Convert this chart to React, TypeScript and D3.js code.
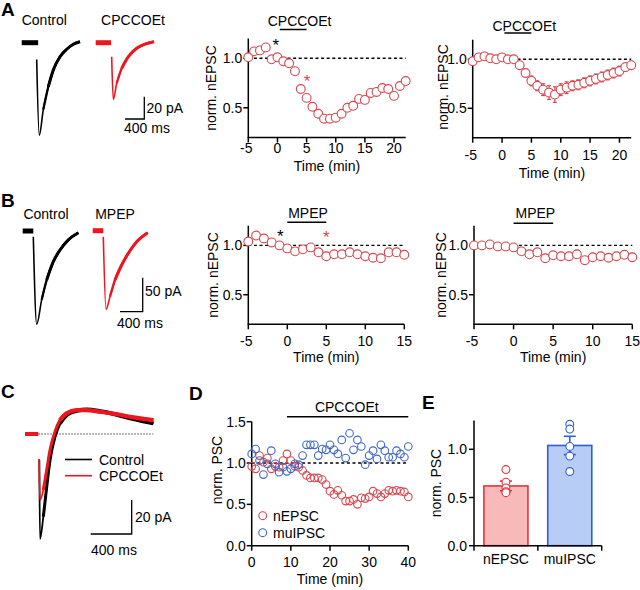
import React from 'react';
import * as d3 from 'd3';

const FONT = "'Liberation Sans', Arial, Helvetica, sans-serif";
const FS = 14;
const RED_PT = '#d6474f';
const BLUE_PT = '#3f67c7';
const TRACE_RED = '#f0141e';

// ---------------- Data ----------------
const timeA = [-5, -4, -3, -2, -1, 0, 1, 2, 3, 4, 5, 6, 7, 8, 9, 10, 11, 12, 13, 14, 15, 16, 17, 18, 19, 20, 21, 22];
const aExampleVals = [1.01, 1.07, 1.08, 1.11, 0.99, 1.01, 0.97, 0.95, 0.87, 0.69, 0.6, 0.51, 0.44, 0.39, 0.39, 0.4, 0.44, 0.5, 0.52, 0.59, 0.58, 0.65, 0.66, 0.7, 0.69, 0.62, 0.72, 0.77];
const aMeanVals = [0.98, 1.02, 1.03, 1.01, 1.0, 1.02, 1.0, 1.0, 0.94, 0.86, 0.78, 0.73, 0.69, 0.66, 0.64, 0.69, 0.71, 0.73, 0.74, 0.76, 0.78, 0.8, 0.82, 0.84, 0.86, 0.88, 0.92, 0.94];
const aMeanErr = [0.02, 0.02, 0.02, 0.02, 0.02, 0.02, 0.02, 0.02, 0.03, 0.04, 0.05, 0.05, 0.06, 0.07, 0.08, 0.06, 0.06, 0.05, 0.05, 0.05, 0.05, 0.05, 0.05, 0.05, 0.05, 0.05, 0.04, 0.04];
const aStars = [{ t: -0.3, v: 1.16, c: '#000' }, { t: 5.1, v: 0.8, c: RED_PT }];

const timeB = [-5, -4, -3, -2, -1, 0, 1, 2, 3, 4, 5, 6, 7, 8, 9, 10, 11, 12, 13, 14, 15];
const bExampleVals = [1.04, 1.1, 1.07, 1.03, 1.0, 0.97, 0.94, 0.96, 0.98, 0.93, 0.89, 0.91, 0.91, 0.93, 0.91, 0.89, 0.875, 0.87, 0.93, 0.93, 0.905];
const bMeanVals = [1.0, 1.0, 1.01, 0.99, 0.99, 0.98, 0.94, 0.91, 0.93, 0.87, 0.9, 0.89, 0.89, 0.91, 0.85, 0.88, 0.89, 0.875, 0.89, 0.905, 0.88];
const bMeanErr = [0.01, 0.01, 0.01, 0.01, 0.01, 0.01, 0.02, 0.02, 0.02, 0.03, 0.03, 0.03, 0.03, 0.04, 0.03, 0.03, 0.03, 0.03, 0.03, 0.03, 0.04];
const bStars = [{ t: -0.9, v: 1.13, c: '#000' }, { t: 5.0, v: 1.12, c: RED_PT }];

const timeD = [0, 1, 2, 3, 4, 5, 6, 7, 8, 9, 10, 11, 12, 13, 14, 15, 16, 17, 18, 19, 20, 21, 22, 23, 24, 25, 26, 27, 28, 29, 30, 31, 32, 33, 34, 35, 36, 37, 38, 39, 40];
const dEPSC = [0.96, 0.93, 1.09, 1.01, 1.06, 0.93, 0.96, 0.95, 1.03, 1.11, 1.03, 0.96, 0.95, 0.91, 0.85, 0.82, 0.82, 0.82, 0.8, 0.74, 0.66, 0.62, 0.67, 0.61, 0.54, 0.54, 0.56, 0.5, 0.58, 0.57, 0.59, 0.66, 0.63, 0.59, 0.63, 0.67, 0.66, 0.67, 0.66, 0.65, 0.59];
const dIPSC = [1.11, 1.17, 1.03, 0.86, 0.99, 1.15, 0.99, 0.89, 0.95, 0.9, 0.93, 0.99, 0.98, 1.09, 1.22, 1.22, 1.22, 1.09, 1.17, 1.16, 1.22, 1.16, 1.11, 1.28, 1.06, 1.36, 1.16, 1.28, 1.2, 0.98, 1.09, 1.15, 1.05, 1.22, 1.15, 1.07, 1.07, 1.15, 1.11, 1.07, 1.2];
const dLegend = ['nEPSC', 'muIPSC'];

const eCats = ['nEPSC', 'muIPSC'];
const eMeans = [0.62, 1.04];
const eSems = [0.05, 0.095];
const ePoints = [
  [0.79, 0.66, 0.6, 0.56, 0.55],
  [1.26, 1.21, 1.03, 0.93, 0.77],
];

// traces: [time ms, current pA]
const aCtrlTrace = [[310, -15], [364, -83], [447, -60], [551, -39.5], [654, -24.5], [793, -12.6], [932, -5.9], [1068, -1.4], [1207, 0.9]];
const aDrugTrace = [[331, -12.6], [364, -50.8], [435, -36.4], [538, -23], [675, -12.6], [849, -5], [1021, -1.2], [1207, 0.9]];
const bCtrlTrace = [[187, -8.4], [247, -137], [335, -101], [423, -72], [540, -45], [658, -28], [804, -13], [981, -2.5]];
const bDrugTrace = [[187, -8.8], [235, -115.6], [305, -97], [393, -72.5], [511, -50.4], [628, -33.2], [776, -16.2], [970, -2.9]];
const cCtrlTrace = [[140, -15.3], [146, -61.8], [179, -48.6], [212, -31], [244, -15.3], [293, -1.6], [341, 6.3], [407, 11.2], [504, 13.7], [602, 14.3], [732, 13.4], [895, 11.4], [1057, 8.8], [1252, 6.3]];
const cDrugTrace = [[137, -14.7], [146, -38.8], [179, -32.9], [212, -21.2], [244, -9.4], [293, 1.4], [341, 8.2], [407, 12.2], [504, 14.1], [602, 14.1], [732, 13.1], [895, 11.6], [1057, 9.8], [1252, 8.2]];

// ---------------- Components ----------------
type Series = { vals: number[]; err?: number[]; color: string; fill: string };

function TimeCourse(p: any) {
  const x = d3.scaleLinear().domain(p.xDomain).range(p.xRange);
  const y = d3.scaleLinear().domain(p.yDomain).range(p.yRange);
  const [xl, xr] = p.xRange;
  const [yb, yt] = p.yRange;
  const r = p.r ?? 4.4;
  return (
    <g fontFamily={FONT} fontSize={FS}>
      {p.dash && (
        <line x1={x(p.dash[0])} x2={x(p.dash[1])} y1={y(1)} y2={y(1)} stroke="#000" strokeWidth={1.4} strokeDasharray="3,2.6" />
      )}
      <line x1={xl} x2={xl} y1={yt} y2={yb} stroke="#000" strokeWidth={1.5} />
      <line x1={xl - 0.75} x2={xr} y1={yb} y2={yb} stroke="#000" strokeWidth={1.5} />
      {p.yTicks.map((t: number) => (
        <g key={'y' + t}>
          <line x1={xl - 5} x2={xl} y1={y(t)} y2={y(t)} stroke="#000" strokeWidth={1.5} />
          <text x={xl - 6} y={y(t) + 5} textAnchor="end">{p.yFmt(t)}</text>
        </g>
      ))}
      {p.xTicks.map((t: number) => (
        <g key={'x' + t}>
          <line x1={x(t)} x2={x(t)} y1={yb} y2={yb + 5} stroke="#000" strokeWidth={1.5} />
          <text x={x(t) + (t < 0 ? -2 : 0)} y={yb + p.xTickDy} textAnchor="middle">{t < 0 ? '-' + Math.abs(t) : String(t)}</text>
        </g>
      ))}
      <text x={(xl + xr) / 2} y={p.xTitleY} textAnchor="middle">Time (min)</text>
      <text transform={`translate(${p.yTitleX},${p.yTitleY}) rotate(-90)`} textAnchor="middle">{p.yTitle}</text>
      {p.series.map((s: Series, si: number) => (
        <g key={si}>
          {s.err && s.vals.map((v, i) => (
            <g key={'e' + i} stroke={s.color} strokeWidth={1.2}>
              <line x1={x(p.time[i])} x2={x(p.time[i])} y1={y(v - s.err![i])} y2={y(v + s.err![i])} />
              <line x1={x(p.time[i]) - 2} x2={x(p.time[i]) + 2} y1={y(v - s.err![i])} y2={y(v - s.err![i])} />
              <line x1={x(p.time[i]) - 2} x2={x(p.time[i]) + 2} y1={y(v + s.err![i])} y2={y(v + s.err![i])} />
            </g>
          ))}
          {s.vals.map((v, i) => (
            <circle key={i} cx={x(p.time[i])} cy={y(v)} r={r} fill={s.fill} stroke={s.color} strokeWidth={1.1} />
          ))}
        </g>
      ))}
      {p.drug && (
        <g>
          <line x1={x(p.drug.from)} x2={x(p.drug.to)} y1={p.drug.barY} y2={p.drug.barY} stroke="#000" strokeWidth={1.5} />
          <text x={x(p.drug.labelT)} y={p.drug.labelY} textAnchor="middle">{p.drug.label}</text>
        </g>
      )}
      {p.stars && p.stars.map((s: any, i: number) => (
        <text key={i} x={x(s.t)} y={y(s.v) + 9} fill={s.c} fontSize={17} textAnchor="middle">*</text>
      ))}
    </g>
  );
}

function Trace(p: any) {
  const x = d3.scaleLinear().domain([0, 1000]).range([p.x0, p.x0 + 1000 * p.msPx]);
  const y = d3.scaleLinear().domain([0, -100]).range([p.y0, p.y0 + 100 * p.paPx]);
  const line = d3.line<number[]>().x((d) => x(d[0])).y((d) => y(d[1])).curve(d3.curveMonotoneX);
  const data: number[][] = p.data;
  let peak = 0;
  data.forEach((d, i) => { if (d[1] < data[peak][1]) peak = i; });
  const thick = data.slice(peak + (p.thickOffset ?? 2));
  return (
    <g fill="none" stroke={p.color} strokeLinejoin="round">
      {p.stub && (
        <line x1={x(p.stub[0])} x2={x(p.stub[1])} y1={y(0)} y2={y(0)} strokeWidth={p.stubW ?? 5} />
      )}
      <path d={line(data) || ''} strokeWidth={p.thinW ?? 1.6} />
      <path d={line(data.slice(peak + 1)) || ''} strokeWidth={((p.thinW ?? 1.6) + (p.thickW ?? 3)) / 2} />
      <path d={line(thick) || ''} strokeWidth={p.thickW ?? 3} />
    </g>
  );
}

function PanelE() {
  const x = d3.scaleBand().domain(eCats).range([474, 601.7]).paddingInner(0.31).paddingOuter(0.155);
  const y = d3.scaleLinear().domain([0, 1.3]).range([545.7, 420.4]);
  const strokes = ['#e0363b', '#2f5fd3'];
  const fills = ['#f8b9b9', '#b8cdf5'];
  const bw = x.bandwidth();
  const bounds = [474, 474 + x.step(), 601.7];
  return (
    <g fontFamily={FONT} fontSize={FS}>
      {eCats.map((c, i) => {
        const cx = (x(c) as number) + bw / 2;
        return (
          <g key={c}>
            <rect x={x(c)} y={y(eMeans[i])} width={bw} height={y(0) - y(eMeans[i])} fill={fills[i]} stroke={strokes[i]} strokeWidth={1.6} />
            <g stroke={strokes[i]} strokeWidth={1.6}>
              <line x1={cx} x2={cx} y1={y(eMeans[i] - eSems[i])} y2={y(eMeans[i] + eSems[i])} />
              <line x1={cx - 6} x2={cx + 6} y1={y(eMeans[i] - eSems[i])} y2={y(eMeans[i] - eSems[i])} />
              <line x1={cx - 6} x2={cx + 6} y1={y(eMeans[i] + eSems[i])} y2={y(eMeans[i] + eSems[i])} />
            </g>
            {ePoints[i].map((v, j) => (
              <circle key={j} cx={cx} cy={y(v)} r={3.9} fill="#fff" stroke={strokes[i]} strokeWidth={1.1} />
            ))}
            <text x={cx} y={y(0) + 18} textAnchor="middle">{c}</text>
          </g>
        );
      })}
      <line x1={474} x2={474} y1={y(1.3)} y2={y(0) + 5} stroke="#000" strokeWidth={1.5} />
      <line x1={474} x2={601.7} y1={y(0)} y2={y(0)} stroke="#000" strokeWidth={1.5} />
      {bounds.slice(1).map((b, i) => (
        <line key={i} x1={b} x2={b} y1={y(0)} y2={y(0) + 5} stroke="#000" strokeWidth={1.5} />
      ))}
      {[0, 0.5, 1.0].map((t) => (
        <g key={t}>
          <line x1={469} x2={474} y1={y(t)} y2={y(t)} stroke="#000" strokeWidth={1.5} />
          <text x={467} y={y(t) + 5} textAnchor="end">{t.toFixed(1)}</text>
        </g>
      ))}
      <text transform={`translate(441,483) rotate(-90)`} textAnchor="middle">norm. PSC</text>
    </g>
  );
}

export default function App() {
  const f1 = (t: number) => t.toFixed(1);
  return (
    <svg width={640} height={590} style={{ position: 'absolute', left: 0, top: 0, background: '#fff' }} fontFamily={FONT}>
      {/* panel letters */}
      <g fontWeight="bold" fontSize={19} fontFamily={FONT}>
        <text x={1} y={16}>A</text>
        <text x={1} y={207}>B</text>
        <text x={1} y={398}>C</text>
        <text x={189} y={400}>D</text>
        <text x={422} y={409}>E</text>
      </g>

      {/* ---- Panel A traces ---- */}
      <g fontSize={FS}>
        <text x={44.3} y={25} textAnchor="middle">Control</text>
        <text x={133} y={25} textAnchor="middle">CPCCOEt</text>
      </g>
      <Trace data={aCtrlTrace} stub={[0, 340]} x0={21.7} y0={42.7} msPx={0.0483} paPx={1.115} color="#000" />
      <Trace data={aDrugTrace} stub={[0, 317]} x0={95.7} y0={42.7} msPx={0.0483} paPx={1.115} color={TRACE_RED} />
      <g stroke="#000" strokeWidth={1.3} fill="none">
        <polyline points="125,119 144.3,119 144.3,96.7" />
      </g>
      <g fontSize={FS}>
        <text x={146.5} y={113}>20 pA</text>
        <text x={124} y={133}>400 ms</text>
      </g>

      <TimeCourse
        time={timeA}
        series={[{ vals: aExampleVals, color: RED_PT, fill: '#fff' }]}
        xDomain={[-5, 22]} xRange={[248.3, 405.7]}
        yDomain={[0.2, 1.2]} yRange={[137.5, 38.5]}
        xTicks={[-5, 0, 5, 10, 15, 20]} yTicks={[0.5, 1.0]} yFmt={f1}
        xTickDy={15} xTitleY={171}
        yTitleX={216} yTitleY={88} yTitle="norm. nEPSC"
        dash={[-5, 22]}
        drug={{ label: 'CPCCOEt', from: 0.4, to: 5, barY: 29.5, labelY: 26, labelT: 3.8 }}
        stars={aStars}
      />
      <TimeCourse
        time={timeA}
        series={[{ vals: aMeanVals, err: aMeanErr, color: RED_PT, fill: '#fff' }]}
        xDomain={[-5, 22]} xRange={[472.7, 631.2]}
        yDomain={[0.2, 1.2]} yRange={[137.7, 39.7]}
        xTicks={[-5, 0, 5, 10, 15, 20]} yTicks={[0.5, 1.0]} yFmt={f1}
        xTickDy={22} xTitleY={178}
        yTitleX={448} yTitleY={87} yTitle="norm. nEPSC"
        dash={[-5, 22]}
        drug={{ label: 'CPCCOEt', from: 0.4, to: 5, barY: 33, labelY: 31, labelT: 3.8 }}
      />

      {/* ---- Panel B ---- */}
      <g fontSize={FS}>
        <text x={46} y={219} textAnchor="middle">Control</text>
        <text x={115} y={219} textAnchor="middle">MPEP</text>
      </g>
      <Trace data={bCtrlTrace} stub={[0, 187]} x0={22.7} y0={231} msPx={0.0567} paPx={0.68} color="#000" />
      <Trace data={bDrugTrace} stub={[0, 187]} x0={92.7} y0={230.7} msPx={0.0567} paPx={0.68} color={TRACE_RED} />
      <g stroke="#000" strokeWidth={1.3} fill="none">
        <polyline points="120,311.7 142.7,311.7 142.7,277.7" />
      </g>
      <g fontSize={FS}>
        <text x={145} y={296}>50 pA</text>
        <text x={117} y={328}>400 ms</text>
      </g>

      <TimeCourse
        time={timeB}
        series={[{ vals: bExampleVals, color: RED_PT, fill: '#fff' }]}
        xDomain={[-5, 15]} xRange={[248.3, 404.3]}
        yDomain={[0.2, 1.2]} yRange={[324.3, 225.7]}
        xTicks={[-5, 0, 5, 10, 15]} yTicks={[0.5, 1.0]} yFmt={f1}
        xTickDy={22} xTitleY={362}
        yTitleX={218} yTitleY={275} yTitle="norm. nEPSC"
        dash={[-5, 15]}
        drug={{ label: 'MPEP', from: 0, to: 5, barY: 222.3, labelY: 217.5, labelT: 2.65 }}
        stars={bStars}
      />
      <TimeCourse
        time={timeB}
        series={[{ vals: bMeanVals, err: bMeanErr, color: RED_PT, fill: '#fff' }]}
        xDomain={[-5, 15]} xRange={[474, 632.3]}
        yDomain={[0.2, 1.2]} yRange={[324.3, 225.7]}
        xTicks={[-5, 0, 5, 10, 15]} yTicks={[0.5, 1.0]} yFmt={f1}
        xTickDy={22} xTitleY={362}
        yTitleX={446} yTitleY={275} yTitle="norm. nEPSC"
        dash={[-5, 15]}
        drug={{ label: 'MPEP', from: 0, to: 5, barY: 223.3, labelY: 218, labelT: 2.75 }}
      />

      {/* ---- Panel C ---- */}
      <line x1={38.3} x2={153.3} y1={434} y2={434} stroke="#444" strokeWidth={1} strokeDasharray="1.5,1.5" />
      <Trace data={cCtrlTrace} x0={25} y0={434} msPx={0.1025} paPx={1.7} color="#000" thinW={1.8} thickW={4.2} thickOffset={5} />
      <Trace data={cDrugTrace} stub={[0, 130]} stubW={4} x0={25} y0={434} msPx={0.1025} paPx={1.7} color={TRACE_RED} thinW={1.8} thickW={4.2} thickOffset={5} />
      <g strokeWidth={1.6}>
        <line x1={65} x2={92} y1={459.5} y2={459.5} stroke="#000" />
        <line x1={65} x2={92} y1={475.7} y2={475.7} stroke={TRACE_RED} />
      </g>
      <g fontSize={FS}>
        <text x={99} y={465}>Control</text>
        <text x={99} y={481}>CPCCOEt</text>
      </g>
      <g stroke="#000" strokeWidth={1.3} fill="none">
        <polyline points="90.7,534 131.7,534 131.7,500" />
      </g>
      <g fontSize={FS}>
        <text x={135} y={521.5}>20 pA</text>
        <text x={91} y={555}>400 ms</text>
      </g>

      {/* ---- Panel D ---- */}
      <TimeCourse
        time={timeD}
        series={[
          { vals: dEPSC, color: RED_PT, fill: 'none' },
          { vals: dIPSC, color: BLUE_PT, fill: 'none' },
        ]}
        r={3.8}
        xDomain={[0, 40]} xRange={[251.7, 408.3]}
        yDomain={[0, 1.5]} yRange={[545.7, 421.7]}
        xTicks={[0, 10, 20, 30, 40]} yTicks={[0, 0.5, 1.0, 1.5]} yFmt={f1}
        xTickDy={21.5} xTitleY={584}
        yTitleX={222} yTitleY={470} yTitle="norm. PSC"
        dash={[0, 40]}
        drug={{ label: 'CPCCOEt', from: 9, to: 40, barY: 416.7, labelY: 411.5, labelT: 24.3 }}
      />
      <g fontSize={FS}>
        {dLegend.map((l, i) => (
          <g key={l}>
            <circle cx={262.7} cy={515.7 + i * 17} r={3.9} fill="none" stroke={i === 0 ? RED_PT : BLUE_PT} strokeWidth={1.1} />
            <text x={273} y={521 + i * 17}>{l}</text>
          </g>
        ))}
      </g>

      {/* ---- Panel E ---- */}
      <PanelE />
    </svg>
  );
}
